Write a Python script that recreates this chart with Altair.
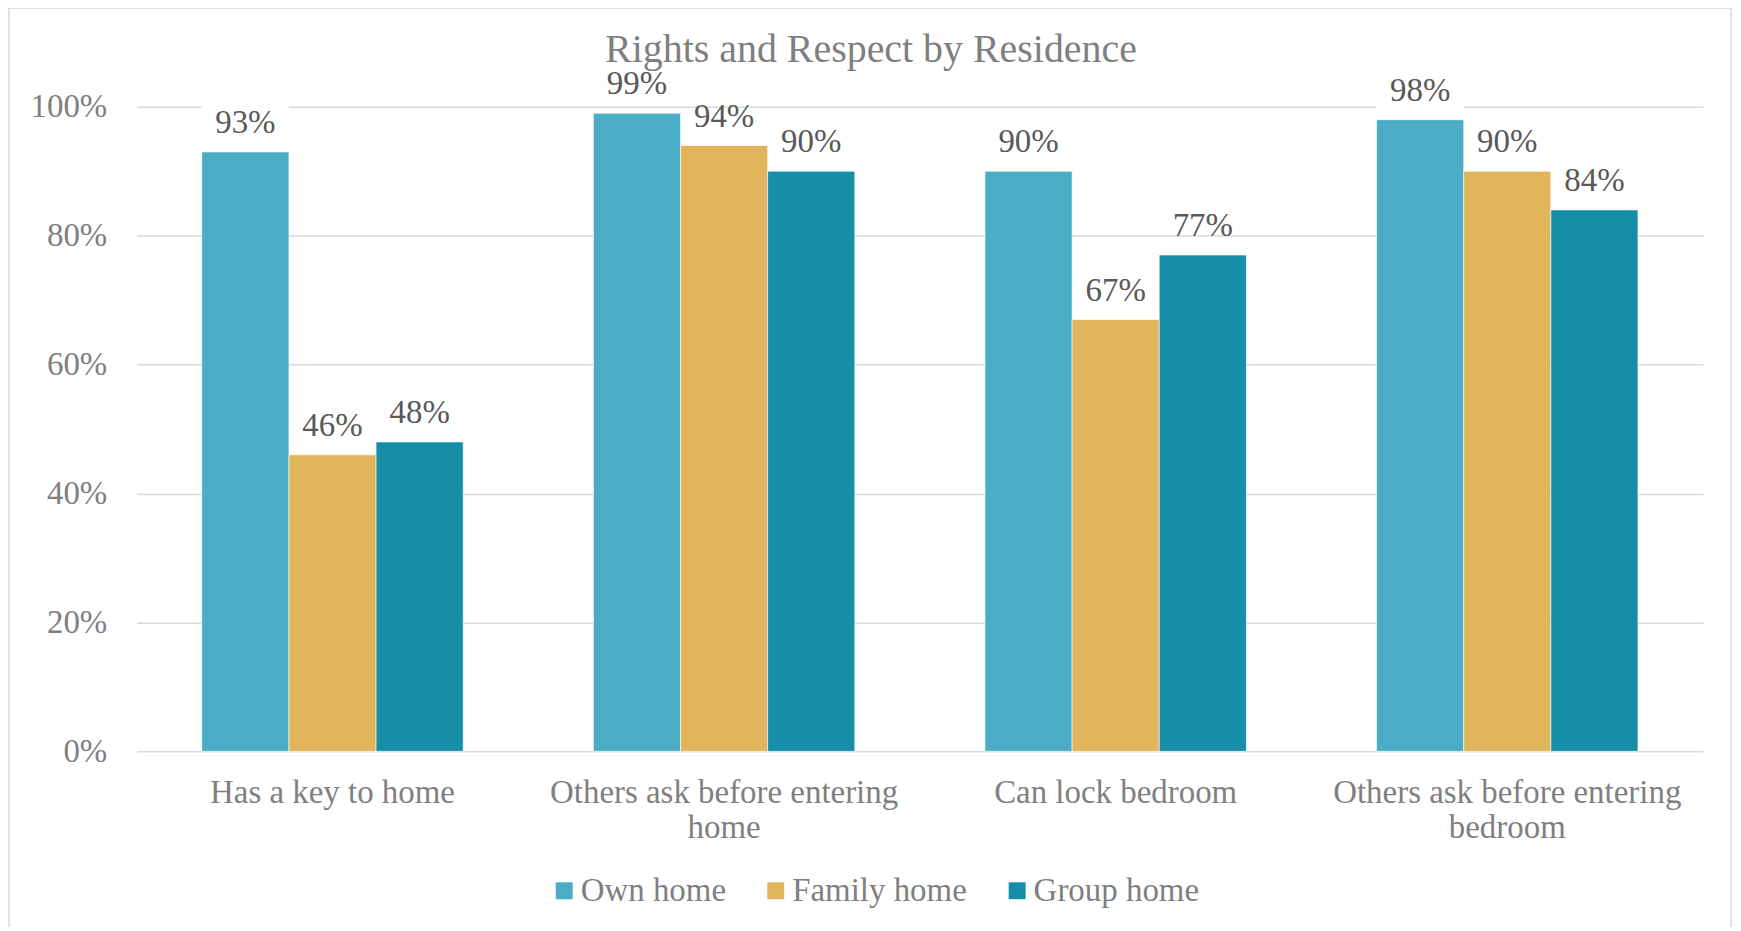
import json
import altair as alt
import pandas as pd

# ---- data ----
categories = [
    "Has a key to home",
    "Others ask before entering home",
    "Can lock bedroom",
    "Others ask before entering bedroom",
]
series = ["Own home", "Family home", "Group home"]
own_home = [93, 99, 90, 98]
family_home = [46, 94, 67, 90]
group_home = [48, 90, 77, 84]
y_ticks = [0, 0.2, 0.4, 0.6, 0.8, 1.0]
wrapped_labels = {
    "Others ask before entering home": ["Others ask before entering", "home"],
    "Others ask before entering bedroom": ["Others ask before entering", "bedroom"],
}
colors = ["#4BACC6", "#E1B55B", "#178EA7"]

rows = []
for s, vals in zip(series, [own_home, family_home, group_home]):
    for c, v in zip(categories, vals):
        rows.append({"category": c, "series": s, "value": v / 100.0})
df = pd.DataFrame(rows)

FONT = "Liberation Serif"
GRAY = "#7F7F7F"

label_expr = "datum.label"
for k, v in reversed(list(wrapped_labels.items())):
    label_expr = f"datum.label == {json.dumps(k)} ? {json.dumps(v)} : ({label_expr})"

x_enc = alt.X(
    "category:N",
    sort=categories,
    scale=alt.Scale(paddingInner=0.3325, paddingOuter=0.16625),
    axis=alt.Axis(
        title=None, domain=False, ticks=False, tickSize=0, labelAngle=0,
        labelPadding=25, labelFont=FONT, labelFontSize=33, labelColor=GRAY,
        labelLineHeight=35, labelLimit=600, labelExpr=label_expr,
    ),
)
xoff_enc = alt.XOffset("series:N", sort=series, scale=alt.Scale(paddingInner=0, paddingOuter=0))
y_enc = alt.Y(
    "value:Q",
    scale=alt.Scale(domain=[0, 1], nice=False),
    axis=alt.Axis(
        title=None, values=y_ticks, format=".0%", domain=False, ticks=False,
        tickSize=0, labelPadding=30, labelFont=FONT, labelFontSize=33,
        labelColor=GRAY, gridColor="#D9D9D9", gridWidth=1.5,
    ),
)
color_enc = alt.Color(
    "series:N",
    sort=series,
    scale=alt.Scale(domain=series, range=colors),
    legend=alt.Legend(
        orient="none", legendX=412, legendY=769, direction="horizontal",
        title=None, symbolType="square", symbolSize=289, symbolStrokeWidth=0,
        labelFont=FONT, labelFontSize=33, labelColor=GRAY, labelOffset=0,
        columnPadding=33, labelLimit=400,
    ),
)

base = alt.Chart(df)

bars = base.mark_bar(stroke="white", strokeWidth=0.6).encode(
    x=x_enc, xOffset=xoff_enc, y=y_enc, color=color_enc
)

boxes = base.transform_filter(alt.datum.series == "Own home").mark_rect(
    color="white", yOffset=-49, y2Offset=-11
).encode(
    x=alt.X("category:N", sort=categories),
    xOffset=alt.XOffset("series:N", sort=series),
    y="value:Q",
    y2="value:Q",
)

labels = base.mark_text(
    baseline="alphabetic", dy=-19, font=FONT, fontSize=33, color="#595959"
).encode(
    x=alt.X("category:N", sort=categories),
    xOffset=alt.XOffset("series:N", sort=series),
    y="value:Q",
    text=alt.Text("value:Q", format=".0%"),
)

frame = alt.Chart(pd.DataFrame({"f": [0]})).mark_rect(
    fillOpacity=0, stroke="#D9D9D9", strokeWidth=1.5
).encode(
    x=alt.value(-128), x2=alt.value(1598), y=alt.value(-99), y2=alt.value(840)
)

chart = alt.layer(frame, bars, boxes, labels).properties(
    width=1570,
    height=646,
    title=alt.TitleParams(
        text="Rights and Respect by Residence", font=FONT, fontSize=40,
        fontWeight="normal", color=GRAY, anchor="middle", baseline="alphabetic",
        offset=0, dx=-49, dy=95,
    ),
    autosize=alt.AutoSizeParams(type="none"),
    padding={"left": 129, "top": 98, "right": 30, "bottom": 175},
    background="white",
).configure_view(stroke=None)

chart.save("out.html", embed_options={"renderer": "svg", "actions": False})
